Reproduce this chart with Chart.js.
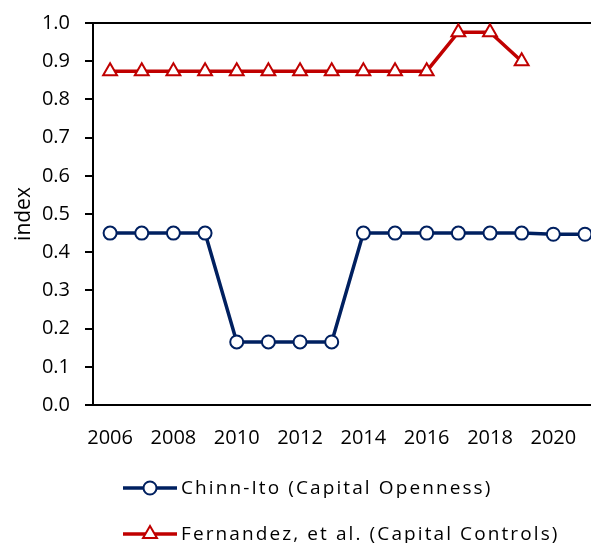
<!DOCTYPE html>
<html>
<head>
<meta charset="utf-8">
<script src="https://cdn.jsdelivr.net/npm/chart.js@4"></script>
<style>
  html, body { margin: 0; padding: 0; background: #fff; overflow: hidden; }
  #wrap { width: 591px; height: 543px; }
</style>
</head>
<body>
<div id="wrap"><canvas id="chart"></canvas></div>
<script>
// anos e séries
const years = [2006, 2007, 2008, 2009, 2010, 2011, 2012, 2013, 2014, 2015, 2016, 2017, 2018, 2019, 2020, 2021];
const chinnIto = [0.45, 0.45, 0.45, 0.45, 0.165, 0.165, 0.165, 0.165, 0.45, 0.45, 0.45, 0.45, 0.45, 0.45, 0.447, 0.447];
const fernandez = [0.874, 0.874, 0.874, 0.874, 0.874, 0.874, 0.874, 0.874, 0.874, 0.874, 0.874, 0.976, 0.976, 0.9, null, null];
const xTickYears = [2006, 2008, 2010, 2012, 2014, 2016, 2018, 2020];
const yTicks = [0, 0.1, 0.2, 0.3, 0.4, 0.5, 0.6, 0.7, 0.8, 0.9, 1.0];

const FONT = "'Open Sans', sans-serif";
const BLUE = '#002060';
const RED = '#C00000';

// legenda desenhada à mão: linha + marcador + texto
const lineLegend = {
  id: 'lineLegend',
  afterDraw(chart) {
    const ctx = chart.ctx;
    const items = chart.data.datasets;
    ctx.save();
    items.forEach((ds, i) => {
      const y = chart.height - 55 + i * 46;
      const x0 = 123, x1 = 177, xm = 150;
      ctx.strokeStyle = ds.borderColor;
      ctx.lineWidth = 3.5;
      ctx.beginPath();
      ctx.moveTo(x0, y);
      ctx.lineTo(x1, y);
      ctx.stroke();
      ctx.fillStyle = ds.pointBackgroundColor;
      ctx.strokeStyle = ds.borderColor;
      ctx.lineWidth = ds.pointBorderWidth;
      ctx.beginPath();
      if (ds.pointStyle === 'circle') {
        ctx.arc(xm, y, ds.pointRadius, 0, Math.PI * 2);
      } else {
        const r = ds.pointRadius;
        ctx.moveTo(xm, y - r);
        ctx.lineTo(xm + r * 0.87, y + r * 0.5);
        ctx.lineTo(xm - r * 0.87, y + r * 0.5);
        ctx.closePath();
      }
      ctx.fill();
      ctx.stroke();
      ctx.fillStyle = '#000';
      ctx.font = '19px ' + FONT;
      ctx.letterSpacing = '2.1px';
      ctx.textBaseline = 'middle';
      ctx.textAlign = 'left';
      ctx.fillText(ds.label, 181, y + 1);
    });
    ctx.restore();
  }
};

new Chart(document.getElementById('chart'), {
  type: 'line',
  data: {
    labels: years,
    datasets: [
      {
        label: 'Chinn-Ito (Capital Openness)',
        data: years.map((yr, i) => ({ x: yr, y: chinnIto[i] })),
        borderColor: BLUE,
        borderWidth: 3.5,
        pointStyle: 'circle',
        pointRadius: 6.5,
        pointBorderWidth: 2,
        pointBackgroundColor: '#fff',
        pointBorderColor: BLUE,
        tension: 0
      },
      {
        label: 'Fernandez, et al. (Capital Controls)',
        data: years.map((yr, i) => ({ x: yr, y: fernandez[i] })),
        borderColor: RED,
        borderWidth: 3.5,
        pointStyle: 'triangle',
        pointRadius: 8,
        pointBorderWidth: 2,
        pointBackgroundColor: '#fff',
        pointBorderColor: RED,
        tension: 0,
        spanGaps: false
      }
    ]
  },
  options: {
    responsive: true,
    maintainAspectRatio: false,
    animation: false,
    layout: { autoPadding: false, padding: { top: 23, right: 0, left: 0, bottom: 0 } },
    plugins: {
      legend: { display: false },
      tooltip: { enabled: false }
    },
    scales: {
      x: {
        type: 'linear',
        min: 2005.46,
        max: 2021.19,
        afterBuildTicks: scale => { scale.ticks = xTickYears.map(v => ({ value: v })); },
        afterFit: scale => {
          scale.height = 138;
          scale.paddingLeft = 0;
          scale.paddingRight = 0;
        },
        grid: { display: false, drawTicks: false },
        border: { display: true, color: '#000', width: 2 },
        ticks: {
          padding: 21,
          color: '#000',
          font: { family: FONT, size: 20 },
          callback: v => String(v),
          maxRotation: 0,
          autoSkip: false
        }
      },
      y: {
        min: 0,
        max: 1,
        afterBuildTicks: scale => { scale.ticks = yTicks.map(v => ({ value: v })); },
        afterFit: scale => {
          scale.width = 93;
          scale.paddingTop = 0;
        },
        grid: {
          color: c => (c.tick && Math.abs(c.tick.value - 1) < 1e-6) ? '#000' : 'rgba(0,0,0,0)',
          lineWidth: 2,
          tickColor: '#000',
          tickLength: 8,
          drawTicks: true
        },
        border: { display: true, color: '#000', width: 2 },
        ticks: {
          padding: 15,
          color: '#000',
          font: { family: FONT, size: 20 },
          callback: v => v.toFixed(1)
        },
        title: {
          display: true,
          text: 'index',
          color: '#000',
          font: { family: FONT, size: 21 },
          padding: { top: 11, bottom: 0 }
        }
      }
    }
  },
  plugins: [lineLegend]
});
</script>
</body>
</html>
